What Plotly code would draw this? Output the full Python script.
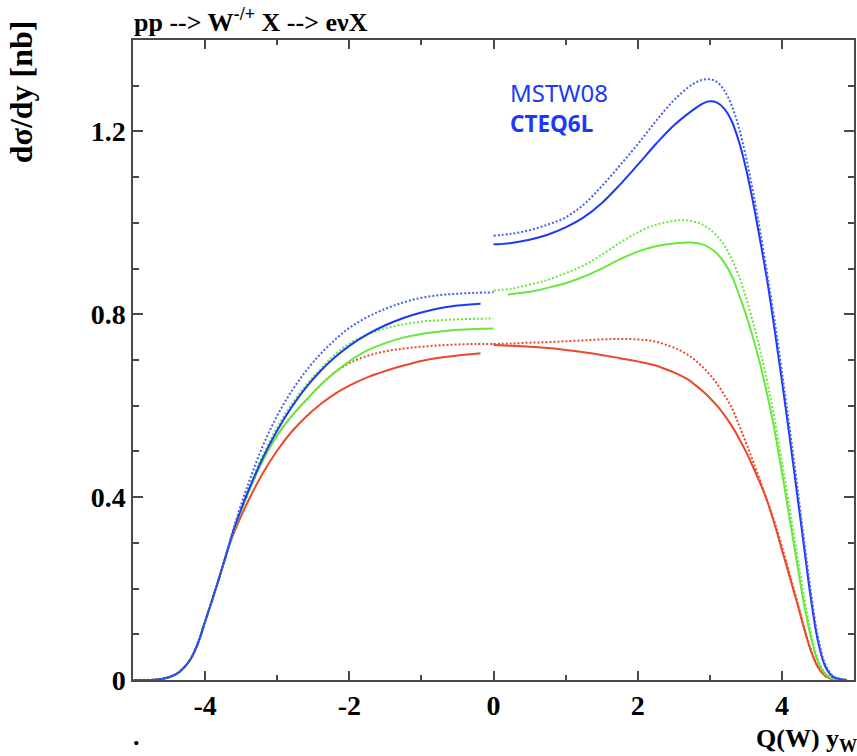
import plotly.graph_objects as go

# ---------------- data ----------------
# common rising edge shared by all curves
x_rise = [-5.0, -4.8, -4.6, -4.4, -4.3, -4.2, -4.1, -4.0, -3.9, -3.8, -3.7]
y_rise = [0.0, 0.0, 0.002, 0.013, 0.026, 0.046, 0.08, 0.128, 0.176, 0.226, 0.278]

# left branch (y_W < 0)
x_l_full = [-3.6, -3.4, -3.2, -3.0, -2.8, -2.6, -2.4, -2.2, -2.0, -1.75, -1.5, -1.25, -1.0, -0.75, -0.5, -0.25, 0.0]
x_l_short = [-3.6, -3.4, -3.2, -3.0, -2.8, -2.6, -2.4, -2.2, -2.0, -1.75, -1.5, -1.25, -1.0, -0.75, -0.5, -0.18]

blue_dot_l = [0.335, 0.43, 0.512, 0.578, 0.632, 0.676, 0.713, 0.744, 0.77, 0.794, 0.812, 0.826, 0.836, 0.842, 0.845, 0.847, 0.848]
blue_sol_l = [0.33, 0.414, 0.486, 0.546, 0.597, 0.640, 0.676, 0.706, 0.731, 0.756, 0.776, 0.792, 0.804, 0.813, 0.819, 0.823]
green_dot_l = [0.333, 0.418, 0.492, 0.553, 0.603, 0.645, 0.68, 0.712, 0.736, 0.756, 0.769, 0.778, 0.784, 0.787, 0.789, 0.790, 0.791]
green_sol_l = [0.328, 0.41, 0.48, 0.535, 0.577, 0.612, 0.645, 0.673, 0.697, 0.721, 0.737, 0.749, 0.757, 0.762, 0.766, 0.768, 0.769]
red_dot_l = [0.328, 0.41, 0.48, 0.535, 0.577, 0.612, 0.645, 0.673, 0.693, 0.709, 0.719, 0.725, 0.729, 0.732, 0.734, 0.735, 0.735]
red_sol_l = [0.322, 0.392, 0.452, 0.502, 0.543, 0.576, 0.603, 0.626, 0.644, 0.662, 0.676, 0.688, 0.698, 0.705, 0.710, 0.715]

# right branch (y_W > 0)
x_blue_r = [0.0, 0.25, 0.5, 0.75, 1.0, 1.25, 1.5, 1.75, 2.0, 2.25, 2.5, 2.75, 2.9, 3.0, 3.1, 3.2, 3.3, 3.4, 3.5,
            3.6, 3.7, 3.8, 3.9, 4.0, 4.1, 4.2, 4.3, 4.4, 4.5, 4.6, 4.7, 4.8, 4.9]
blue_dot_r = [0.972, 0.976, 0.984, 0.996, 1.012, 1.04, 1.08, 1.125, 1.172, 1.222, 1.268, 1.302, 1.313, 1.314, 1.308, 1.29,
              1.258, 1.21, 1.145, 1.068, 0.98, 0.885, 0.785, 0.675, 0.56, 0.44, 0.315, 0.195, 0.095, 0.035, 0.01, 0.003, 0.0]
blue_sol_r = [0.953, 0.956, 0.963, 0.974, 0.99, 1.012, 1.043, 1.083, 1.127, 1.172, 1.213, 1.245, 1.261, 1.266, 1.263, 1.25,
              1.224, 1.18, 1.12, 1.045, 0.96, 0.87, 0.765, 0.655, 0.54, 0.42, 0.30, 0.18, 0.085, 0.03, 0.008, 0.002, 0.0]

x_gd_r = [0.0, 0.25, 0.5, 0.75, 1.0, 1.25, 1.5, 1.75, 2.0, 2.25, 2.5, 2.6, 2.7, 2.8, 2.9, 3.0, 3.1, 3.2, 3.3, 3.4, 3.5,
          3.6, 3.7, 3.8, 3.9, 4.0, 4.1, 4.2, 4.3, 4.4, 4.5, 4.6, 4.7, 4.8]
green_dot_r = [0.852, 0.856, 0.865, 0.875, 0.89, 0.907, 0.93, 0.956, 0.979, 0.996, 1.004, 1.006, 1.005, 1.002, 0.996, 0.986,
               0.971, 0.951, 0.922, 0.885, 0.838, 0.782, 0.72, 0.65, 0.57, 0.478, 0.382, 0.285, 0.19, 0.105, 0.045,
               0.015, 0.004, 0.0]

x_gs_r = [0.2, 0.4, 0.6, 0.8, 1.0, 1.25, 1.5, 1.75, 2.0, 2.25, 2.5, 2.75, 2.9, 3.0, 3.1, 3.2, 3.3, 3.4, 3.5,
          3.6, 3.7, 3.8, 3.9, 4.0, 4.1, 4.2, 4.3, 4.4, 4.5, 4.6, 4.7, 4.8]
green_sol_r = [0.843, 0.847, 0.852, 0.86, 0.868, 0.882, 0.9, 0.92, 0.937, 0.949, 0.955, 0.957, 0.953, 0.945, 0.933, 0.913,
               0.886, 0.845, 0.80, 0.748, 0.69, 0.622, 0.545, 0.455, 0.36, 0.265, 0.172, 0.095, 0.04, 0.013, 0.003, 0.0]

x_red_r = [0.0, 0.25, 0.5, 0.75, 1.0, 1.25, 1.5, 1.75, 2.0, 2.25, 2.5, 2.6, 2.7, 2.8, 2.9, 3.0, 3.1, 3.2, 3.3, 3.4, 3.5,
           3.6, 3.7, 3.8, 3.9, 4.0, 4.1, 4.2, 4.3, 4.4, 4.5, 4.6, 4.7, 4.8]
red_dot_r = [0.735, 0.736, 0.738, 0.739, 0.741, 0.743, 0.745, 0.746, 0.745, 0.74, 0.727, 0.72, 0.711, 0.699, 0.685, 0.668,
             0.648, 0.624, 0.597, 0.56, 0.52, 0.478, 0.435, 0.39, 0.345, 0.292, 0.236, 0.179, 0.12, 0.067, 0.03,
             0.01, 0.002, 0.0]
red_sol_r = [0.733, 0.731, 0.729, 0.726, 0.722, 0.717, 0.711, 0.704, 0.697, 0.688, 0.673, 0.666, 0.657, 0.645, 0.632, 0.617,
             0.60, 0.58, 0.557, 0.53, 0.50, 0.466, 0.43, 0.39, 0.34, 0.285, 0.23, 0.175, 0.117, 0.065, 0.028,
             0.009, 0.002, 0.0]

x_ticks = [-4, -2, 0, 2, 4]
x_ticktext = ["-4", "-2", "0", "2", "4"]
y_ticks = [0, 0.4, 0.8, 1.2]
y_ticktext = ["0", "0.4", "0.8", "1.2"]

title_text = "pp --&gt; W<sup>-/+</sup> X --&gt; eνX"
ytitle_text = "dσ/dy [nb]"
xtitle_text = "Q(W) y<sub>W</sub>"
legend_labels = ["MSTW08", "CTEQ6L"]

# ---------------- styles ----------------
BLUE = "rgb(28,58,245)"
BLUE_D = "rgb(70,95,240)"
GREEN = "rgb(104,232,60)"
RED = "rgb(236,72,42)"
DOT = "2px,2px"

fig = go.Figure()


def add(x, y, color, dash):
    fig.add_trace(go.Scatter(
        x=x, y=y, mode="lines",
        line=dict(color=color, width=2, dash=dash, shape="spline", smoothing=1.0),
        hoverinfo="skip", showlegend=False))


curves = [
    (x_l_short, red_sol_l, x_red_r, red_sol_r, RED, "solid"),
    (x_l_full, red_dot_l, x_red_r, red_dot_r, RED, DOT),
    (x_l_full, green_sol_l, x_gs_r, green_sol_r, GREEN, "solid"),
    (x_l_full, green_dot_l, x_gd_r, green_dot_r, GREEN, DOT),
    (x_l_short, blue_sol_l, x_blue_r, blue_sol_r, BLUE, "solid"),
    (x_l_full, blue_dot_l, x_blue_r, blue_dot_r, BLUE_D, DOT),
]
for xl, yl, xr, yr, col, dash in curves:
    add(x_rise + xl, y_rise + yl, col, dash)
    add(xr, yr, col, dash)

AX = "#4a4a4a"
tickfont = dict(family="Liberation Serif", size=28, color="black", weight="bold")

fig.update_layout(
    width=857, height=756,
    margin=dict(l=133, r=1, t=40, b=76),
    paper_bgcolor="white", plot_bgcolor="white",
    xaxis=dict(range=[-5, 5], tickmode="array", tickvals=x_ticks, ticktext=x_ticktext,
               ticks="inside", ticklen=9, tickwidth=1.5, tickcolor=AX,
               showline=True, linecolor=AX, linewidth=1.5, mirror="ticks",
               showgrid=False, zeroline=False, tickfont=tickfont,
               minor=dict(tickmode="linear", tick0=-5, dtick=1, ticks="inside", ticklen=5,
                          tickwidth=1.5, tickcolor=AX, showgrid=False)),
    yaxis=dict(range=[0, 1.4], tickmode="array", tickvals=y_ticks, ticktext=y_ticktext,
               ticks="inside", ticklen=10, tickwidth=1.5, tickcolor=AX,
               showline=True, linecolor=AX, linewidth=1.5, mirror="ticks",
               showgrid=False, zeroline=False, tickfont=tickfont,
               minor=dict(tickmode="linear", tick0=0, dtick=0.1, ticks="inside", ticklen=6,
                          tickwidth=1.5, tickcolor=AX, showgrid=False)),
)


def serif(size):
    return dict(family="Liberation Serif", size=size, color="black")


fig.add_annotation(text="<b>" + title_text + "</b>", xref="paper", yref="paper",
                   x=-0.002, y=1 + 20 / 640, xanchor="left", yanchor="middle",
                   showarrow=False, font=serif(26))
fig.add_annotation(text="<b>" + ytitle_text + "</b>", xref="paper", yref="paper",
                   x=(21 - 133) / 723, y=(680 - 92) / 640, xanchor="center", yanchor="middle",
                   textangle=-90, showarrow=False, font=serif(32))
fig.add_annotation(text="<b>" + xtitle_text + "</b>", xref="paper", yref="paper",
                   x=(861 - 133) / 723, y=(680 - 740) / 640, xanchor="right", yanchor="middle",
                   showarrow=False, font=serif(26))
fig.add_annotation(text="<b>.</b>", xref="paper", yref="paper",
                   x=(137 - 133) / 723, y=(680 - 736) / 640, xanchor="center", yanchor="middle",
                   showarrow=False, font=serif(26))
fig.add_annotation(text=legend_labels[0], xref="paper", yref="paper",
                   x=(509 - 133) / 723, y=(680 - 92) / 640, xanchor="left", yanchor="middle",
                   showarrow=False, font=dict(family="Noto Sans", size=24, color=BLUE))
fig.add_annotation(text="<b>" + legend_labels[1] + "</b>", xref="paper", yref="paper",
                   x=(509 - 133) / 723, y=(680 - 124) / 640, xanchor="left", yanchor="middle",
                   showarrow=False, font=dict(family="Noto Sans", size=22.5, color=BLUE))

fig.write_html("out.html")
